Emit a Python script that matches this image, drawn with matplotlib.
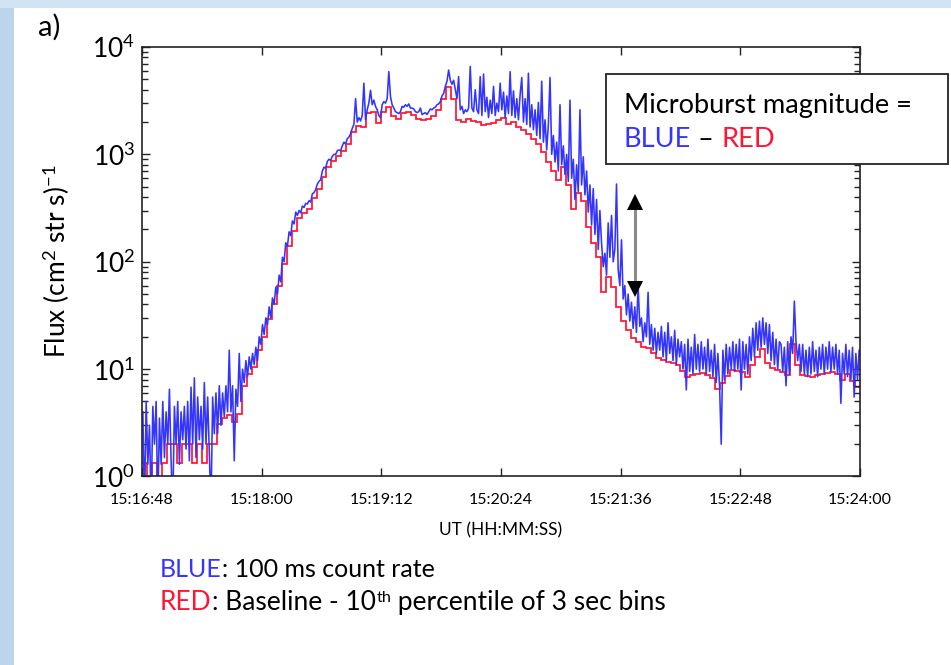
import numpy as np
import matplotlib
matplotlib.use("Agg")
import matplotlib.pyplot as plt
from matplotlib.patches import Rectangle
from matplotlib.text import Annotation

plt.rcParams['font.family'] = ['Lato', 'DejaVu Sans']
plt.rcParams['mathtext.fontset'] = 'custom'
plt.rcParams['mathtext.rm'] = 'Lato'
plt.rcParams['mathtext.it'] = 'Lato:italic'
plt.rcParams['mathtext.bf'] = 'Lato:bold'

# time axis: seconds after 15:16:48 UT
tick_secs = [0, 72, 144, 216, 288, 360, 432]
tick_labels = ["15:16:48", "15:18:00", "15:19:12", "15:20:24",
               "15:21:36", "15:22:48", "15:24:00"]

# 100 ms count rate, one value per second
blue_rate = [
    4.0, 0.5, 5.0, 1.3, 3.0, 0.5, 4.5, 2.0, 5.0, 0.5, 3.5, 1.3,
    5.0, 1.5, 4.0, 2.0, 6.5, 1.4, 0.5, 4.5, 2.0, 5.0, 1.3, 4.0,
    2.2, 4.5, 1.8, 5.0, 1.4, 6.8, 2.0, 8.3, 1.5, 5.5, 2.2, 4.5,
    1.8, 7.5, 2.0, 5.5, 1.6, 0.5, 5.5, 2.5, 6.0, 2.5, 7.0, 3.0,
    6.0, 3.6, 7.0, 4.0, 15, 4.0, 7.0, 1.4, 6.5, 4.5, 14, 5.0,
    10, 7.5, 12, 8.5, 13, 10, 14, 11, 16, 12, 20, 17,
    26, 21, 30, 26, 38, 30, 46, 40, 58, 50, 75, 65,
    110, 100, 150, 140, 190, 175, 240, 225, 290, 270, 300, 285,
    330, 320, 350, 345, 370, 360, 430, 440, 470, 530, 560, 580,
    700, 760, 740, 860, 900, 880, 960, 1000, 1000, 1080, 1100, 1080,
    1200, 1300, 1250, 1400, 1450, 1550, 1750, 1900, 3300, 2000, 2200, 2050,
    2300, 4600, 2100, 2600, 3000, 3950, 2900, 3200, 2800, 2600, 2300, 2200,
    2900, 3100, 3000, 3300, 5900, 3450, 2900, 2700, 2500, 2450, 2400, 2500,
    2800, 2750, 2900, 2800, 2950, 2700, 2700, 2650, 2500, 2450, 2500, 2700,
    2350, 2400, 2450, 2350, 2500, 2650, 2600, 2700, 2750, 2900, 2950, 3100,
    3500, 3700, 4300, 4800, 6100, 4900, 4500, 4900, 4000, 3300, 5300, 2600,
    2800, 2400, 2600, 2500, 2700, 6600, 2700, 2500, 4000, 2600, 2400, 5300,
    2300, 5600, 2500, 3400, 2200, 3200, 2400, 4300, 2300, 3000, 2500, 4600,
    2600, 3800, 2200, 3500, 2400, 5900, 2300, 3900, 2200, 3300, 2100, 3600,
    5200, 2000, 3300, 1900, 5700, 1800, 2900, 1700, 2600, 1500, 3050, 1400,
    4800, 1300, 2100, 1100, 1900, 5200, 1000, 1500, 850, 1300, 700, 2900,
    800, 1200, 650, 1000, 560, 3200, 600, 900, 380, 800, 450, 2600,
    520, 950, 420, 700, 290, 520, 220, 480, 180, 380, 130, 300,
    150, 90, 120, 75, 230, 110, 270, 100, 130, 530, 85, 60,
    160, 45, 60, 32, 50, 28, 42, 24, 38, 22, 61, 25,
    30, 18, 27, 20, 52, 17, 26, 15, 24, 14, 22, 15,
    25, 13, 22, 12, 27, 14, 20, 12, 23, 11, 19, 13,
    18, 10, 17, 6.4, 19, 9.5, 16, 9, 21, 10, 17, 9.5,
    18, 10, 16, 9, 19, 9.5, 15, 8.5, 17, 7.5, 14, 7,
    2.0, 15, 8, 17, 9, 16, 10, 18, 9.5, 17, 10, 19,
    6.4, 18, 10, 17, 9, 20, 12, 24, 13, 27, 15, 28,
    16, 30, 17, 27, 14, 26, 12, 22, 11, 19, 10, 18,
    17, 9.5, 16, 7, 18, 9, 20, 14, 43, 18, 12, 17,
    9.5, 17, 9, 15, 8.5, 16, 9, 18, 9.5, 15, 8.5, 16,
    10, 17, 9, 16, 10, 18, 9.5, 16, 10, 17, 9, 15,
    4.8, 14, 9, 17, 8.5, 15, 8, 16, 5.5, 14, 8, 15,
]

# baseline: 10th percentile of each 3 s bin
red_baseline = [
    1.35, 0.5, 1.35, 0.5, 1.35, 2.0, 2.0, 1.35, 2.0, 2.0, 1.35, 2.0,
    1.35, 2.0, 2.0, 3.1, 3.5, 3.7, 3.2, 3.8, 7.0, 9.0, 10.5, 15,
    20, 29, 40, 60, 95, 140, 195, 255, 285, 310, 390, 480,
    620, 760, 860, 960, 1080, 1250, 1600, 1850, 1800, 2450, 2500, 1950,
    2500, 2750, 2300, 2150, 2450, 2500, 2350, 2150, 2080, 2150, 2300, 2600,
    3300, 4200, 3300, 2100, 2000, 2150, 2050, 2000, 1880, 1900, 1950, 2100,
    2200, 1900, 2000, 1800, 1700, 1550, 1400, 1250, 1050, 850, 700, 580,
    760, 520, 310, 440, 370, 210, 150, 110, 52, 72, 58, 38,
    28, 23, 19.5, 18, 16.2, 15.8, 14, 12.8, 12.2, 11.7, 11.3, 10.9,
    9.6, 8.5, 8.8, 9.1, 9.3, 8.8, 8.2, 6.6, 7.4, 8.6, 9.8, 9.6,
    9.5, 8.5, 10.9, 13, 15.5, 11.3, 10.2, 9.8, 9.5, 8.8, 17, 11,
    8.8, 8.6, 8.5, 8.8, 9.1, 9.3, 9.5, 9.0, 7.9, 9.1, 7.7, 6.8,
]

# double arrow marking one microburst (time in s, flux range)
arrow_t = 296.6
arrow_top, arrow_bot = 360, 56

BLUE = '#3434ff'
RED = '#ff1434'

fig = plt.figure(figsize=(9.51, 6.65), dpi=100)

# light blue slide border on the left and top
fig.add_artist(Rectangle((0, 0), 14 / 951, 1, transform=fig.transFigure,
                         facecolor='#bcd5ec', edgecolor='none', zorder=-5))
fig.add_artist(Rectangle((0, 1 - 8 / 665), 1, 8 / 665, transform=fig.transFigure,
                         facecolor='#d2e3f3', edgecolor='none', zorder=-5))

ax = fig.add_axes([0.14932, 0.28346, 0.75499, 0.64586])

t_blue = np.arange(len(blue_rate)) + 0.5
edges = np.arange(len(red_baseline) + 1) * 3.0

ax.plot(t_blue, blue_rate, color=BLUE, lw=1.15)
ax.stairs(red_baseline, edges, baseline=None, color=RED, lw=1.25)

# arrow: grey shaft, black heads
ax.plot([arrow_t, arrow_t], [arrow_bot * 1.08, arrow_top * 0.93], color='#8a8a8a', lw=2.2)
ax.plot(arrow_t, arrow_top, marker='^', ms=11, color='black', mew=0)
ax.plot(arrow_t, arrow_bot, marker='v', ms=11, color='black', mew=0)

ax.set_yscale('log')
ax.set_ylim(1, 1e4)
ax.set_xlim(0, 432)
ax.set_xticks(tick_secs)
ax.set_xticklabels(tick_labels)
ax.minorticks_on()
ax.xaxis.set_minor_locator(matplotlib.ticker.NullLocator())

ax.tick_params(axis='both', which='both', direction='in', top=True, right=True,
               width=1.0, color='#222222')
ax.tick_params(axis='both', which='major', length=6)
ax.tick_params(axis='y', which='minor', length=4)
ax.tick_params(axis='x', labelsize=11.5, pad=12)
ax.tick_params(axis='y', labelsize=19, pad=5)
for s in ax.spines.values():
    s.set_linewidth(1.2)
    s.set_color('#222222')

ax.set_xlabel('UT (HH:MM:SS)', fontsize=12.5, labelpad=11)
ax.set_ylabel('Flux (cm$^2$ str s)$^{-1}$', fontsize=19)
ax.yaxis.set_label_coords(-0.098, 0.5)

fig.text(38 / 951, 1 - 27 / 665, 'a)', fontsize=21, va='center', ha='left')

# explanation box
fig.add_artist(Rectangle((606 / 951, 1 - 164 / 665), 342 / 951, 90 / 665,
                         transform=fig.transFigure, facecolor='white',
                         edgecolor='#222222', lw=1.3, zorder=5))
fig.text(624 / 951, 1 - 113 / 665, 'Microburst magnitude =', fontsize=19.6,
         va='baseline', zorder=6)


def chain(parts, x, y, size):
    """Write coloured pieces one after another on a shared baseline.
    A piece given as (text, colour, True) is set small and raised."""
    first = fig.text(x, y, parts[0][0], color=parts[0][1], fontsize=size,
                     va='baseline', zorder=6)
    prev, line = first, first
    for part in parts[1:]:
        txt, col = part[0], part[1]
        if len(part) > 2:
            a = Annotation(txt, xy=(1, 1), xycoords=(prev, line), va='top',
                           ha='left', color=col, fontsize=size * 0.62, zorder=6,
                           xytext=(0.5, -1), textcoords='offset points')
        else:
            a = Annotation(txt, xy=(1, 0), xycoords=(prev, line), va='bottom',
                           ha='left', color=col, fontsize=size, zorder=6)
            line = a
        fig.add_artist(a)
        prev = a
    return prev


chain([('BLUE', BLUE), (' \u2013 ', 'black'), ('RED', RED)],
      624 / 951, 1 - 147 / 665, 19.6)

chain([('BLUE', BLUE), (': 100 ms count rate', 'black')],
      160 / 951, 1 - 577 / 665, 18)
chain([('RED', RED), (': Baseline - 10', 'black'), ('th', 'black', True),
       (' percentile of 3 sec bins', 'black')],
      160 / 951, 1 - 610 / 665, 19)

fig.savefig('out.png', dpi=100)
